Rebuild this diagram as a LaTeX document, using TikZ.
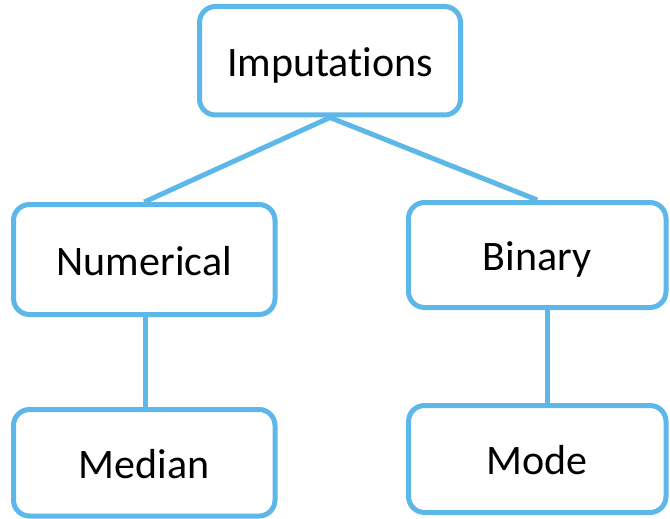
\documentclass[tikz,border=0pt]{standalone}
\usepackage{fontspec}
\setmainfont{Carlito}[Ligatures={NoCommon}]
\definecolor{boxblue}{RGB}{94,183,233}
\tikzset{
  treebox/.style={draw=boxblue, line width=5pt, rounded corners=16pt, fill=white,
    font=\fontsize{42}{50}\selectfont, text height=31pt, text depth=0pt,
    inner sep=0pt, anchor=center},
  link/.style={draw=boxblue, line width=5pt}
}
\begin{document}
\begin{tikzpicture}[x=1pt,y=-1pt]
  \useasboundingbox (0,0) rectangle (670,519);
  % the five boxes of the tree
  \node[treebox, minimum width=261pt, minimum height=108.5pt] (imp) at (330,60.75) {Imputations};
  \node[treebox, minimum width=261.5pt, minimum height=110pt] (num) at (144.25,259.5) {Numerical};
  \node[treebox, minimum width=257.5pt, minimum height=105pt] (bin) at (537.25,255) {Binary};
  \node[treebox, minimum width=261.5pt, minimum height=106.5pt] (med) at (144.25,462.75) {Median};
  \node[treebox, minimum width=257.5pt, minimum height=107pt] (mode) at (537.25,459) {Mode};
  % links between levels
  \draw[link] (imp.south) -- (num.north);
  \draw[link] (imp.south) -- (bin.north);
  \draw[link] ([xshift=1pt]num.south) -- ([xshift=1pt]med.north);
  \draw[link] ([xshift=10pt]bin.south) -- ([xshift=10pt]mode.north);
\end{tikzpicture}
\end{document}
